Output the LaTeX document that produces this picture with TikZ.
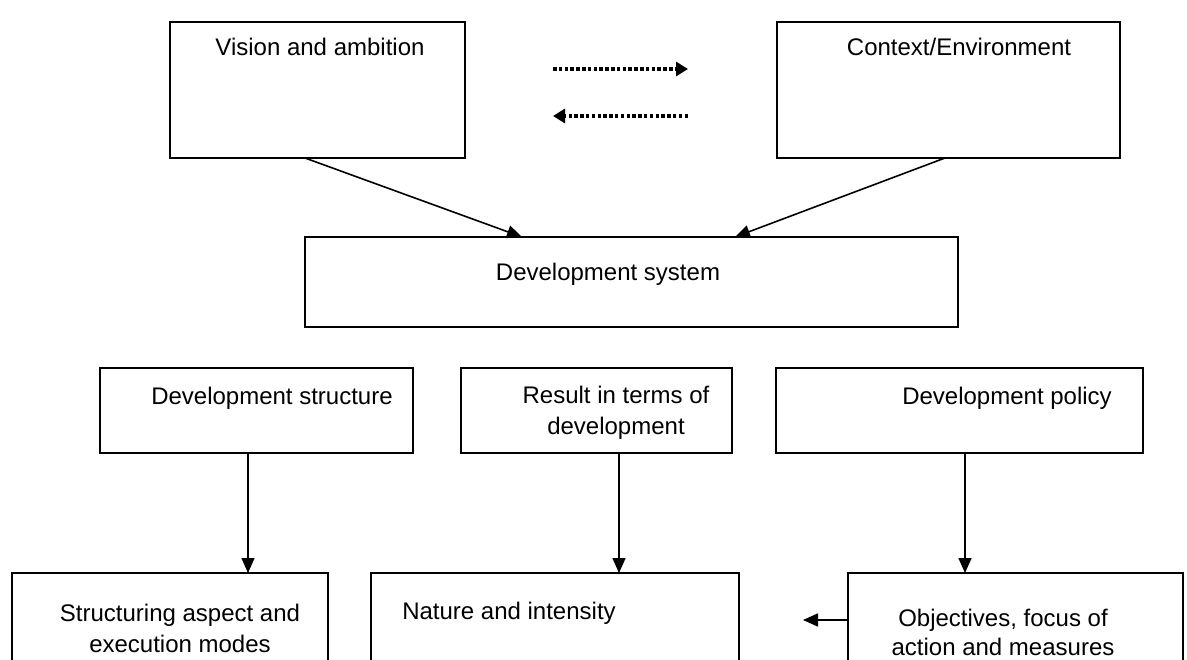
\documentclass[tikz,border=0pt]{standalone}
\usepackage{fontspec}
\setmainfont{Liberation Sans}
\usetikzlibrary{arrows.meta}
\begin{document}
\begin{tikzpicture}[x=1pt,y=-1pt,
  box/.style={draw, line width=1.8pt, inner sep=0pt, outer sep=0pt, anchor=north west},
  txt/.style={inner sep=0pt, anchor=base, align=center, font=\fontsize{24}{31}\selectfont},
  arr/.style={line width=1.6pt, -{Triangle[length=15pt,width=13pt]}},
  dotarr/.style={line width=3.5pt, dash pattern=on 3.5pt off 2.3pt, -{Triangle[length=12pt,width=14pt]}}]
\useasboundingbox (0,0) rectangle (1187,660);
\clip (0,0) rectangle (1187,660);
% top row
\node[box, minimum width=295pt, minimum height=136pt] (V) at (170,22) {};
\node[box, minimum width=343pt, minimum height=136pt] (C) at (777,22) {};
\node[txt] (Vt) at (320,56) {Vision and ambition};
\node[txt] (Ct) at (959,56) {Context/Environment};
% dotted arrows
\draw[dotarr] ([xshift=88pt,yshift=-47pt]V.north east) -- ([xshift=-89pt,yshift=-47pt]C.north west);
\draw[dotarr] ([xshift=-89pt,yshift=-94pt]C.north west) -- ([xshift=88pt,yshift=-94pt]V.north east);
% development system
\node[box, minimum width=653pt, minimum height=90pt] (D) at (305,237) {};
\node[txt] (Dt) at (608,281) {Development system};
\draw[arr] ([xshift=-12.5pt]V.south) -- ([xshift=-109.5pt]D.north);
\draw[arr] ([xshift=-3.5pt]C.south) -- ([xshift=103.5pt]D.north);
% second row
\node[box, minimum width=313pt, minimum height=85pt] (DS) at (100,368) {};
\node[box, minimum width=271pt, minimum height=85pt] (R) at (461,368) {};
\node[box, minimum width=367pt, minimum height=85pt] (P) at (776,368) {};
\node[txt] (DSt) at (272,405) {Development structure};
\node[txt] (Rt) at (616,435) {Result in terms of\\development};
\node[txt] (Pt) at (1007,405) {Development policy};
% third row
\node[box, minimum width=316pt, minimum height=140pt] (S) at (12,573) {};
\node[box, minimum width=368pt, minimum height=140pt] (N) at (371,573) {};
\node[box, minimum width=335pt, minimum height=140pt] (O) at (848,573) {};
\node[txt] (St) at (180,652) {Structuring aspect and\\execution modes};
\node[txt] (Nt) at (509,619) {Nature and intensity};
\node[txt, font=\fontsize{24}{29}\selectfont] (Ot) at (1003,655) {Objectives, focus of\\action and measures};
% vertical arrows
\draw[arr] ([xshift=-8.5pt]DS.south) -- ([xshift=78pt]S.north);
\draw[arr] ([xshift=22.5pt]R.south) -- ([xshift=64pt]N.north);
\draw[arr] ([xshift=5.5pt]P.south) -- ([xshift=-50.5pt]O.north);
% left arrow from objectives
\draw[arr] ([yshift=-47pt]O.north west) -- ([xshift=-45pt,yshift=-47pt]O.north west);
\end{tikzpicture}
\end{document}
